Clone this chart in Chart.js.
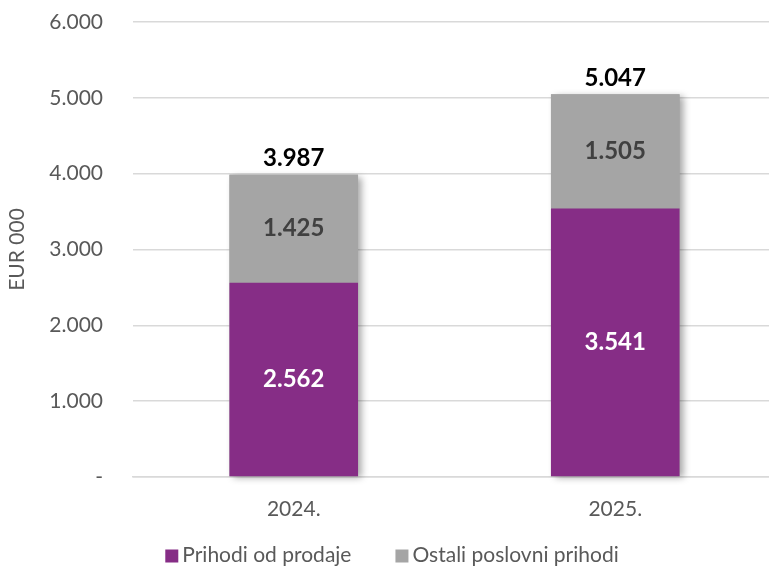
<!DOCTYPE html>
<html>
<head>
<meta charset="utf-8">
<script src="https://cdn.jsdelivr.net/npm/chart.js@4/dist/chart.umd.min.js"></script>
<style>
  html,body{margin:0;padding:0;background:#fff;overflow:hidden}
  #wrap{width:776px;height:572px}
</style>
</head>
<body>
<div id="wrap"><canvas id="c"></canvas></div>
<script>
// podaci grafa
var godine=["2024.","2025."]
var prihodiProdaja=[2562,3541]
var ostaliPrihodi=[1425,1505]
var ukupno=[3987,5047]
var nazivi=["Prihodi od prodaje","Ostali poslovni prihodi"]

var boja_ljub="rgb(134,45,134)"
var boja_siva="rgb(165,165,165)"
var font_obitelj="Lato, 'Open Sans', sans-serif"
var vel_fonta=21

function formatBroj(v){
    if(v==0) return "-"
    return v.toLocaleString("de-DE")
}

// sjena oko cijelog stupca
const sjenaPlugin={
    id:'sjenaStupca',
    beforeDatasetsDraw:(chart)=>{
        const {ctx}=chart
        const donji=chart.getDatasetMeta(0).data
        const gornji=chart.getDatasetMeta(1).data
        ctx.save()
        ctx.shadowColor='rgba(0,0,0,0.35)'
        ctx.shadowBlur=7
        ctx.shadowOffsetX=4
        ctx.shadowOffsetY=2
        ctx.fillStyle=boja_siva
        for(var i=0;i<donji.length;i++){
            const d=donji[i], g=gornji[i]
            ctx.fillRect(d.x-d.width/2,g.y,d.width,d.base-g.y)
        }
        ctx.restore()
    }
}

// oznake vrijednosti
const oznakePlugin={
    id:'oznake',
    afterDatasetsDraw:(chart)=>{
        const {ctx}=chart
        ctx.save()
        ctx.textAlign='center'
        ctx.textBaseline='middle'
        ctx.font="bold 24px "+font_obitelj
        const boje=['#ffffff','#404040']
        chart.data.datasets.forEach((ds,di)=>{
            chart.getDatasetMeta(di).data.forEach((el,i)=>{
                ctx.fillStyle=boje[di]
                ctx.fillText(formatBroj(ds.data[i]),el.x,(el.y+el.base)/2)
            })
        })
        ctx.fillStyle='#000000'
        chart.getDatasetMeta(1).data.forEach((el,i)=>{
            ctx.fillText(formatBroj(ukupno[i]),el.x,el.y-16)
        })
        ctx.restore()
    }
}

// legenda ispod grafa (razmak izmedu stavki veci od ugradene)
const legendaPlugin={
    id:'legendaDolje',
    afterDraw:(chart)=>{
        const {ctx}=chart
        const kvadrat=13, razmakTekst=4, razmakStavke=44
        const y=555
        ctx.save()
        ctx.font=vel_fonta+"px "+font_obitelj
        ctx.textBaseline='middle'
        const sirine=chart.data.datasets.map(ds=>ctx.measureText(ds.label).width)
        var ukupnaSirina=0
        sirine.forEach((w,i)=>{ukupnaSirina+=kvadrat+razmakTekst+w+(i>0?razmakStavke:0)})
        var x=chart.width/2+4-ukupnaSirina/2
        chart.data.datasets.forEach((ds,i)=>{
            ctx.fillStyle=ds.backgroundColor
            ctx.fillRect(x,y-kvadrat/2+1,kvadrat,kvadrat)
            x+=kvadrat+razmakTekst
            ctx.fillStyle='#595959'
            ctx.fillText(ds.label,x,y)
            x+=sirine[i]+razmakStavke
        })
        ctx.restore()
    }
}

var config={
    type:'bar',
    data:{
        labels:godine,
        datasets:[
            {label:nazivi[0],data:prihodiProdaja,backgroundColor:boja_ljub},
            {label:nazivi[1],data:ostaliPrihodi,backgroundColor:boja_siva}
        ]
    },
    options:{
        responsive:true,
        maintainAspectRatio:false,
        animation:false,
        layout:{padding:{top:22,left:0,right:0,bottom:36}},
        datasets:{bar:{categoryPercentage:1,barPercentage:0.4}},
        plugins:{
            legend:{display:false},
            tooltip:{enabled:false}
        },
        scales:{
            x:{
                stacked:true,
                grid:{display:false},
                border:{display:true,color:'#d9d9d9',width:1.5},
                ticks:{color:'#595959',font:{family:font_obitelj,size:vel_fonta},padding:12},
                afterFit:(s)=>{s.height=59;s.paddingLeft=0;s.paddingRight=0}
            },
            y:{
                stacked:true,
                min:0,
                max:6000,
                grid:{color:'#d9d9d9',lineWidth:1.5,drawTicks:false},
                border:{display:false},
                ticks:{
                    stepSize:1000,
                    color:'#595959',
                    font:{family:font_obitelj,size:vel_fonta},
                    padding:30,
                    callback:(v)=>formatBroj(v)
                },
                title:{
                    display:true,
                    text:'EUR 000',
                    color:'#595959',
                    font:{family:font_obitelj,size:vel_fonta},
                    padding:{top:5,bottom:0}
                },
                afterFit:(s)=>{s.width=133;s.paddingTop=0;s.paddingBottom=0}
            }
        }
    },
    plugins:[sjenaPlugin,oznakePlugin,legendaPlugin]
}

var chart=new Chart(document.getElementById('c'),config)
</script>
</body>
</html>
